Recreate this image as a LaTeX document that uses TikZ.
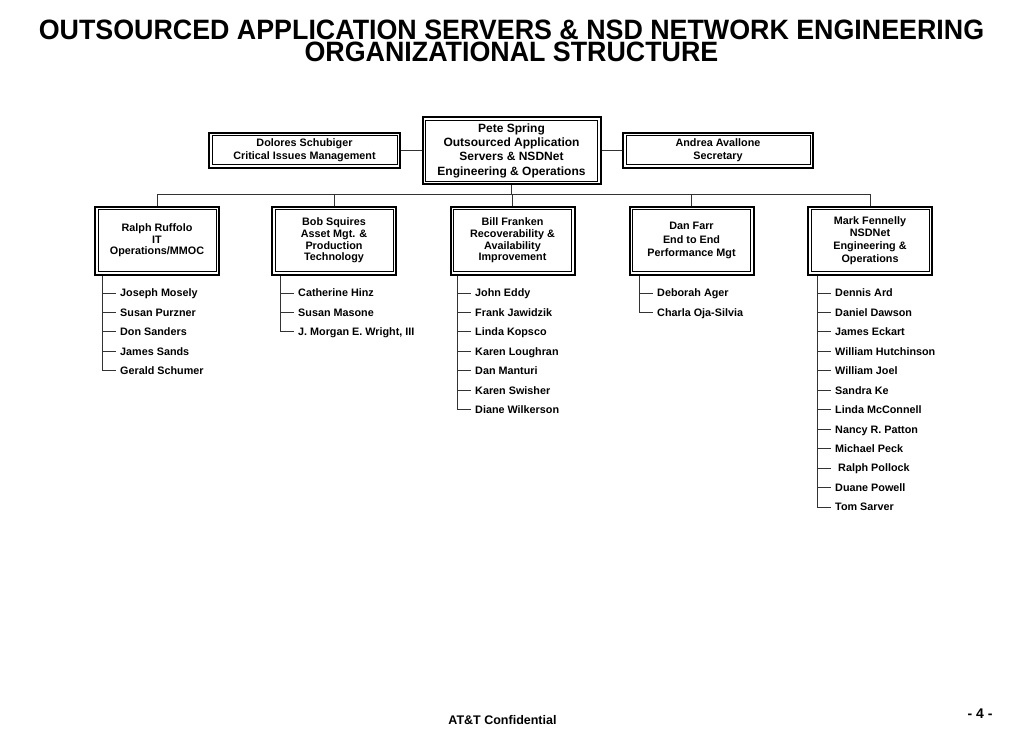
\documentclass[tikz,border=0pt]{standalone}
\usepackage{fontspec}
\setmainfont{Liberation Sans}
\usepackage{graphicx}
\begin{document}
\begin{tikzpicture}[x=1pt,y=-1pt,
  dbox/.style={draw=black, line width=2pt, inner sep=0pt, align=center, minimum width=124pt, minimum height=68pt, font=\bfseries\fontsize{10.8}{11.7}\selectfont},
  inbox/.style={draw=black, line width=0.9pt},
  conn/.style={draw=black!80, line width=0.9pt},
  item/.style={anchor=west, inner sep=0pt, text height=7.8pt, text depth=0pt, font=\bfseries\fontsize{10.8}{13}\selectfont},
  ttl/.style={anchor=north, inner sep=0pt, align=center, font=\bfseries\fontsize{28}{22.5}\selectfont}]
\useasboundingbox[fill=white] (0,0) rectangle (1023,731);

% title
\node[ttl] (title) at (511.5,19.5) {\scalebox{0.958}[1]{OUTSOURCED APPLICATION SERVERS \& NSD NETWORK ENGINEERING}\\\scalebox{0.958}[1]{ORGANIZATIONAL STRUCTURE}};

% top level
\node[dbox, minimum width=178pt, minimum height=67pt, font=\bfseries\fontsize{12}{14.3}\selectfont] (pete) at (511.5,150.5)
  {Pete Spring\\Outsourced Application\\Servers \& NSDNet\\Engineering \& Operations};
\node[dbox, minimum width=191pt, minimum height=35pt, font=\bfseries\fontsize{10.8}{13.3}\selectfont] (dolores) at (304.5,150)
  {Dolores Schubiger\\Critical Issues Management};
\node[dbox, minimum width=190pt, minimum height=35pt, font=\bfseries\fontsize{10.8}{13.3}\selectfont] (andrea) at (718,150)
  {Andrea Avallone\\Secretary};

% second level
\node[dbox] (ralph) at (157,240.5) {Ralph Ruffolo\\IT\\Operations/MMOC};
\node[dbox] (bob) at (334,240.5) {Bob Squires\\Asset Mgt. \&\\Production\\Technology};
\node[dbox] (bill) at (512.5,240.5) {Bill Franken\\Recoverability \&\\Availability\\Improvement};
\node[dbox, font=\bfseries\fontsize{10.8}{13.3}\selectfont] (dan) at (691.5,240.5) {Dan Farr\\End to End\\Performance Mgt};
\node[dbox, font=\bfseries\fontsize{10.8}{12.7}\selectfont] (mark) at (870,240.5) {Mark Fennelly\\NSDNet\\Engineering \&\\Operations};

\foreach \n in {pete,dolores,andrea,ralph,bob,bill,dan,mark}
  \draw[inbox] ([shift={(4pt,-4pt)}]\n.north west) rectangle ([shift={(-4pt,4pt)}]\n.south east);

% connectors top
\draw[conn] (dolores.east) -- (pete.west |- dolores.east);
\draw[conn] (andrea.west) -- (pete.east |- andrea.west);
\coordinate (busL) at (157,194);
\coordinate (busR) at (870,194);
\draw[conn] (busL) -- (busR);
\draw[conn] (pete.south) -- (pete.south |- busL);
\foreach \n in {ralph,bob,bill,dan,mark}
  \draw[conn] (\n.north) -- (\n.north |- busL);

% lists
\foreach \t [count=\i] in {Joseph Mosely, Susan Purzner, Don Sanders, James Sands, Gerald Schumer}
  \node[item] (ra\i) at (120,{293+19.45*(\i-1)}) {\t};
\foreach \t [count=\i] in {Catherine Hinz, Susan Masone, {J. Morgan E. Wright, III}}
  \node[item] (bo\i) at (298,{293+19.45*(\i-1)}) {\t};
\foreach \t [count=\i] in {John Eddy, Frank Jawidzik, Linda Kopsco, Karen Loughran, Dan Manturi, Karen Swisher, Diane Wilkerson}
  \node[item] (bi\i) at (475,{293+19.45*(\i-1)}) {\t};
\foreach \t [count=\i] in {Deborah Ager, Charla Oja-Silvia}
  \node[item] (da\i) at (657,{293+19.45*(\i-1)}) {\t};
\foreach \t [count=\i] in {Dennis Ard, Daniel Dawson, James Eckart, William Hutchinson, William Joel, Sandra Ke, Linda McConnell, {Nancy R. Patton}, Michael Peck, {\hspace*{3pt}Ralph Pollock}, Duane Powell, Tom Sarver}
  \node[item] (ma\i) at (835,{293+19.45*(\i-1)}) {\t};

\coordinate (rav) at ([xshift=-18pt]ra1.west);
\coordinate (bov) at ([xshift=-18pt]bo1.west);
\coordinate (biv) at ([xshift=-18pt]bi1.west);
\coordinate (dav) at ([xshift=-18pt]da1.west);
\coordinate (mav) at ([xshift=-18pt]ma1.west);

\draw[conn] (rav |- ralph.south) |- ([xshift=-4pt]ra5.west);
\draw[conn] (bov |- bob.south) |- ([xshift=-4pt]bo3.west);
\draw[conn] (biv |- bill.south) |- ([xshift=-4pt]bi7.west);
\draw[conn] (dav |- dan.south) |- ([xshift=-4pt]da2.west);
\draw[conn] (mav |- mark.south) |- ([xshift=-4pt]ma12.west);

\foreach \i in {1,...,4} \draw[conn] ([xshift=-18pt]ra\i.west) -- ([xshift=-4pt]ra\i.west);
\foreach \i in {1,2} \draw[conn] ([xshift=-18pt]bo\i.west) -- ([xshift=-4pt]bo\i.west);
\foreach \i in {1,...,6} \draw[conn] ([xshift=-18pt]bi\i.west) -- ([xshift=-4pt]bi\i.west);
\foreach \i in {1} \draw[conn] ([xshift=-18pt]da\i.west) -- ([xshift=-4pt]da\i.west);
\foreach \i in {1,...,11} \draw[conn] ([xshift=-18pt]ma\i.west) -- ([xshift=-4pt]ma\i.west);

% footer
\node[anchor=base, inner sep=0pt, font=\bfseries\fontsize{12.5}{13}\selectfont] (foot) at (502.5,724) {AT\&T Confidential};
\node[anchor=base, inner sep=0pt, font=\bfseries\fontsize{14}{15}\selectfont] (page) at (980,718) {- 4 -};
\end{tikzpicture}
\end{document}
